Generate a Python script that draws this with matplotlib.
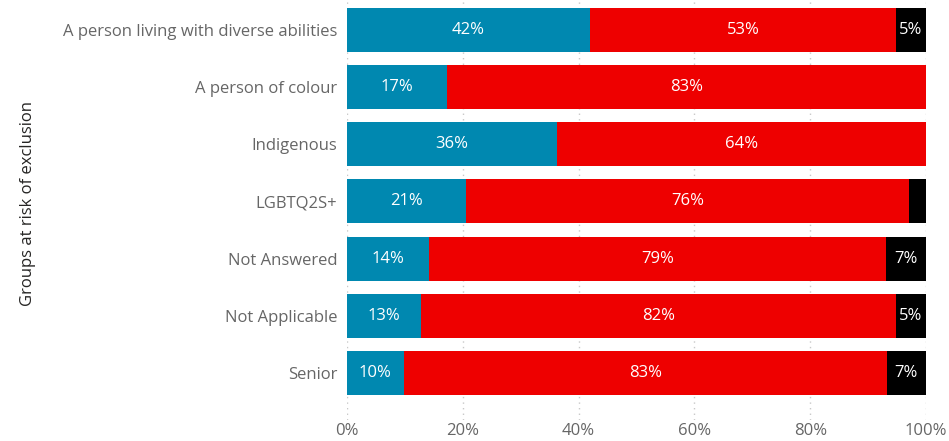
import matplotlib.pyplot as plt
from matplotlib.ticker import FuncFormatter

# Share of responses per group (percent)
groups = [
    "A person living with diverse abilities",
    "A person of colour",
    "Indigenous",
    "LGBTQ2S+",
    "Not Answered",
    "Not Applicable",
    "Senior",
]
yes_pct = [42.0, 17.3, 36.3, 20.6, 14.2, 12.8, 9.8]
no_pct = [52.8, 82.7, 63.7, 76.4, 78.9, 82.0, 83.4]
other_pct = [5.2, 0.0, 0.0, 3.0, 6.9, 5.2, 6.8]

colors = ["#0088B0", "#EE0000", "#000000"]

plt.rcParams['font.family'] = ['Open Sans', 'DejaVu Sans']

fig = plt.figure(figsize=(9.49, 4.41), dpi=100)
ax = fig.add_axes([347 / 949, 21 / 441, 579 / 949, 420 / 441])

ypos = list(range(len(groups)))
left = [0.0] * len(groups)
for series, color in zip([yes_pct, no_pct, other_pct], colors):
    ax.barh(ypos, series, left=left, height=0.77, color=color, zorder=2)
    for y, v, l in zip(ypos, series, left):
        if v >= 4:
            ax.text(l + v / 2, y, f"{v:.0f}%", ha='center', va='center',
                    color='white', fontsize=12, zorder=3)
    left = [l + v for l, v in zip(left, series)]

ax.set_xlim(0, 100)
ax.set_ylim(6.82, -0.52)
ax.set_yticks(ypos)
ax.set_yticklabels(groups)
ax.set_xticks(range(0, 101, 20))
ax.xaxis.set_major_formatter(FuncFormatter(lambda x, _: f"{x:.0f}%"))
ax.tick_params(axis='both', length=0, labelsize=12, colors='#666666')
ax.tick_params(axis='y', pad=7)
ax.tick_params(axis='x', pad=2)

ax.grid(axis='x', linestyle=(0, (1, 3)), color='#C8C8C8', linewidth=1, zorder=0)
ax.set_axisbelow(True)
for spine in ax.spines.values():
    spine.set_visible(False)

fig.text(28 / 949, 1 - 204 / 441, "Groups at risk of exclusion", rotation=90,
         ha='center', va='center', fontsize=12, color='#252423')

fig.savefig("out.png", dpi=100)
